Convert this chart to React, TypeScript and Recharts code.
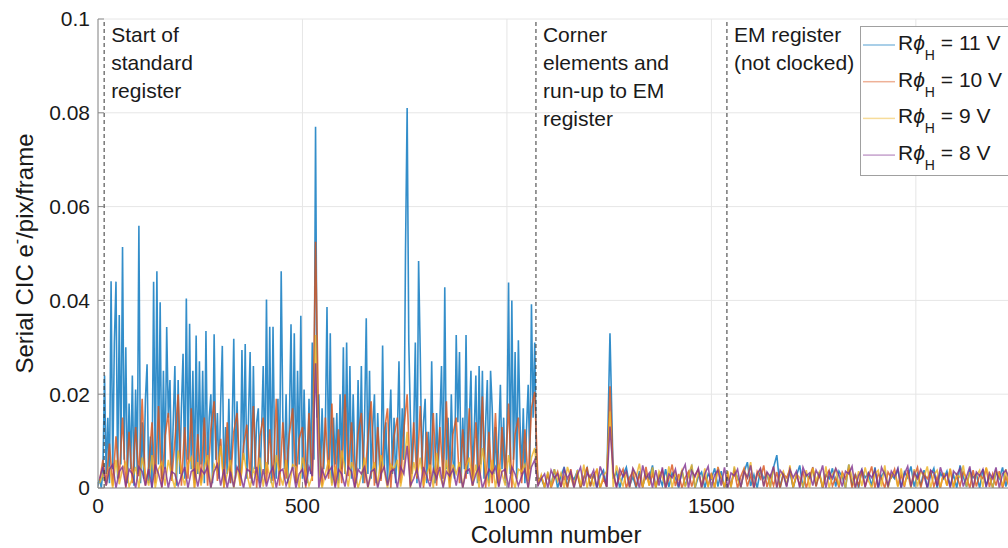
import { CartesianGrid, Legend, Line, LineChart, ReferenceLine, XAxis, YAxis } from 'recharts'

const FONT = '"Liberation Sans", Arial, Helvetica, sans-serif'
const TEXT = '#1a1a1a'
const AXIS = '#8a8a8a'

// CIC values are typed in units of 1e-4 e-/pix/frame
// 11 V, standard register part, one value every 4 columns (0..1076)
const blueValsA = [
    5, 20, 0, 35, 240, 30, 150, 10, 441, 40,
    310, 440, 20, 369, 50, 514, 60, 300, 10, 180,
    40, 240, 5, 210, 30, 559, 10, 140, 20, 190,
    264, 10, 110, 0, 440, 30, 462, 50, 396, 20,
    250, 40, 343, 150, 230, 20, 140, 260, 5, 230,
    30, 170, 286, 20, 404, 60, 350, 40, 250, 10,
    325, 30, 270, 50, 250, 10, 335, 40, 150, 200,
    10, 328, 60, 160, 20, 180, 303, 5, 130, 30,
    190, 10, 120, 318, 20, 185, 50, 10, 294, 60,
    307, 20, 150, 290, 10, 260, 40, 140, 170, 10,
    120, 260, 30, 402, 50, 344, 10, 344, 60, 20,
    190, 30, 462, 150, 40, 200, 10, 140, 349, 40,
    330, 10, 250, 50, 367, 20, 210, 60, 10, 190,
    30, 310, 60, 770, 150, 200, 20, 170, 40, 130,
    386, 30, 330, 10, 150, 50, 160, 10, 200, 40,
    300, 30, 310, 40, 260, 20, 200, 60, 10, 230,
    40, 260, 10, 150, 362, 30, 250, 20, 130, 200,
    10, 160, 50, 20, 304, 40, 140, 10, 120, 210,
    30, 150, 10, 110, 270, 40, 170, 60, 507, 810,
    310, 150, 30, 120, 310, 10, 484, 290, 40, 140,
    190, 10, 120, 30, 270, 50, 10, 160, 40, 140,
    260, 20, 428, 40, 150, 10, 200, 60, 20, 326,
    140, 290, 10, 150, 40, 326, 30, 140, 250, 20,
    120, 240, 10, 260, 50, 250, 20, 140, 230, 10,
    250, 170, 30, 130, 10, 110, 220, 40, 150, 10,
    120, 438, 30, 400, 60, 290, 20, 315, 140, 30,
    170, 10, 130, 220, 40, 392, 150, 310, 60, 20,
]

// 11 V, corner elements and EM register, one value every 8 columns (1084..2236)
const blueValsB = [
    20, 2, 30, 5, 40, 0, 25, 45, 3, 28,
    18, 35, 0, 22, 42, 4, 30, 0, 26, 38,
    2, 330, 20, 34, 0, 28, 44, 5, 24, 0,
    36, 3, 30, 20, 48, 0, 26, 5, 40, 2,
    32, 22, 0, 38, 4, 28, 46, 0, 24, 34,
    0, 30, 20, 42, 3, 36, 0, 26, 5, 40,
    22, 2, 34, 55, 4, 28, 0, 38, 20, 30,
    3, 44, 70, 0, 32, 5, 36, 0, 26, 48,
    0, 30, 22, 40, 4, 34, 0, 28, 20, 42,
    3, 36, 24, 0, 50, 5, 30, 0, 38, 22,
    32, 4, 44, 0, 26, 36, 2, 28, 20, 40,
    0, 34, 22, 46, 3, 30, 5, 38, 0, 26,
    42, 0, 32, 20, 36, 4, 28, 0, 48, 24,
    2, 38, 22, 30, 0, 40, 5, 26, 0, 34,
    20, 44, 3, 30, 24,
]

// 10 V, 9 V and 8 V, one value every 8 columns (4..2236)
const orangeVals = [
    15, 60, 10, 95, 5, 110, 20, 150, 0, 120,
    10, 130, 25, 190, 5, 45, 140, 10, 175, 0,
    110, 160, 15, 100, 200, 5, 130, 20, 170, 0,
    115, 10, 150, 5, 125, 185, 15, 105, 0, 140,
    10, 120, 160, 5, 90, 135, 20, 175, 0, 110,
    150, 10, 125, 15, 190, 5, 140, 20, 115, 170,
    10, 105, 130, 0, 160, 15, 525, 120, 5, 150,
    20, 180, 5, 125, 10, 200, 25, 140, 0, 115,
    160, 10, 105, 185, 5, 130, 15, 120, 170, 0,
    110, 150, 10, 125, 200, 5, 140, 20, 175, 0,
    120, 15, 160, 5, 130, 20, 185, 0, 115, 150,
    10, 125, 20, 170, 5, 140, 15, 195, 0, 120,
    10, 160, 5, 130, 20, 180, 0, 115, 150, 10,
    125, 15, 170, 205, 10, 25, 3, 30, 0, 20,
    35, 2, 25, 0, 40, 5, 30, 0, 22, 45,
    3, 28, 38, 0, 20, 2, 217, 30, 4, 25,
    40, 0, 22, 35, 3, 28, 0, 45, 5, 30,
    2, 25, 38, 0, 20, 50, 4, 30, 0, 22,
    35, 3, 28, 40, 0, 25, 5, 32, 0, 45,
    20, 2, 30, 4, 38, 0, 25, 42, 3, 28,
    0, 35, 20, 48, 2, 26, 5, 34, 0, 30,
    22, 40, 2, 28, 5, 36, 0, 24, 44, 3,
    30, 0, 26, 38, 4, 22, 2, 34, 20, 42,
    0, 28, 5, 36, 3, 24, 46, 0, 30, 20,
    0, 34, 22, 40, 4, 28, 2, 38, 5, 26,
    44, 0, 30, 20, 36, 3, 24, 0, 32, 5,
    40, 2, 26, 4, 34, 22, 0, 38, 3, 28,
    20, 42, 2, 30, 5, 36, 0, 24, 4, 32,
]

const yellowVals = [
    10, 30, 5, 45, 0, 60, 8, 40, 55, 3,
    20, 45, 0, 65, 30, 5, 70, 0, 40, 55,
    5, 60, 25, 0, 80, 35, 5, 50, 65, 0,
    55, 5, 45, 70, 0, 50, 35, 90, 3, 30,
    60, 0, 45, 5, 75, 30, 0, 40, 20, 65,
    3, 55, 25, 0, 70, 30, 5, 60, 0, 50,
    45, 0, 65, 35, 5, 25, 326, 40, 0, 30,
    60, 5, 45, 0, 80, 40, 3, 55, 35, 0,
    25, 65, 0, 30, 55, 5, 70, 35, 0, 50,
    40, 60, 3, 45, 120, 0, 55, 25, 65, 5,
    30, 50, 0, 75, 25, 5, 60, 0, 50, 30,
    55, 0, 45, 65, 5, 50, 0, 85, 40, 3,
    60, 0, 50, 30, 5, 70, 25, 0, 40, 35,
    50, 0, 65, 85, 5, 28, 0, 35, 3, 40,
    15, 32, 0, 45, 22, 2, 38, 5, 50, 0,
    30, 3, 42, 0, 26, 36, 163, 2, 48, 22,
    4, 34, 0, 40, 24, 52, 2, 30, 5, 44,
    0, 36, 22, 3, 46, 0, 32, 18, 38, 2,
    26, 50, 0, 34, 5, 42, 2, 28, 0, 40,
    24, 3, 36, 0, 46, 18, 2, 38, 22, 55,
    0, 28, 40, 4, 34, 0, 44, 2, 26, 36,
    5, 48, 0, 30, 22, 3, 38, 0, 42, 16,
    34, 2, 46, 0, 28, 40, 5, 32, 0, 50,
    22, 0, 36, 4, 44, 16, 0, 30, 38, 3,
    48, 0, 28, 34, 2, 42, 5, 30, 0, 40,
    3, 36, 24, 46, 0, 28, 38, 2, 32, 5,
    42, 0, 30, 22, 48, 3, 34, 0, 26, 38,
    2, 44, 24, 0, 36, 28, 4, 40, 0, 32,
]

const purpleVals = [
    20, 45, 5, 40, 50, 0, 35, 45, 3, 40,
    30, 0, 45, 35, 5, 40, 0, 50, 30, 2,
    45, 0, 35, 30, 5, 25, 45, 0, 35, 40,
    3, 40, 30, 45, 0, 35, 50, 5, 40, 0,
    35, 2, 45, 30, 0, 40, 35, 5, 45, 0,
    40, 3, 30, 45, 0, 35, 40, 5, 25, 45,
    0, 30, 40, 5, 45, 25, 266, 0, 40, 20,
    35, 45, 0, 40, 30, 3, 45, 35, 0, 40,
    30, 45, 2, 35, 40, 0, 30, 45, 5, 35,
    40, 0, 45, 30, 90, 5, 20, 40, 0, 45,
    25, 3, 40, 20, 45, 0, 35, 25, 40, 5,
    45, 0, 35, 40, 5, 30, 45, 0, 20, 40,
    30, 45, 2, 35, 40, 0, 45, 30, 5, 25,
    40, 0, 45, 60, 5, 20, 30, 0, 38, 22,
    30, 2, 40, 20, 35, 0, 28, 44, 4, 32,
    22, 38, 0, 46, 26, 3, 131, 34, 0, 40,
    24, 36, 2, 42, 28, 0, 48, 20, 32, 0,
    38, 5, 44, 0, 30, 22, 40, 3, 34, 50,
    0, 36, 24, 42, 2, 30, 46, 0, 28, 38,
    5, 44, 0, 32, 26, 40, 2, 36, 22, 48,
    0, 30, 42, 3, 34, 24, 46, 0, 38, 28,
    2, 40, 22, 36, 0, 44, 26, 32, 5, 38,
    24, 48, 0, 34, 20, 42, 28, 3, 36, 30,
    46, 0, 26, 40, 2, 32, 22, 38, 0, 44,
    28, 5, 36, 24, 42, 0, 30, 46, 3, 34,
    20, 40, 26, 0, 38, 32, 4, 44, 22, 30,
    0, 36, 28, 42, 3, 24, 46, 0, 34, 26,
    40, 2, 32, 20, 44, 0, 30, 38, 22, 5,
]

const blueCols = [
    ...blueValsA.map((_, i) => i * 4),
    ...blueValsB.map((_, i) => 1084 + i * 8),
]
const otherCols = orangeVals.map((_, i) => 4 + i * 8)

const xTicks = [0, 500, 1000, 1500, 2000]
const yTicks = [0, 0.02, 0.04, 0.06, 0.08, 0.1]

const regionCols = [15, 1071, 1538]
const regionLabels = [
    ['Start of', 'standard', 'register'],
    ['Corner', 'elements and', 'run-up to EM', 'register'],
    ['EM register', '(not clocked)'],
]

const toPoints = (cols: number[], vals: number[]) =>
    cols.map((c, i) => ({ col: c, v: vals[i] / 10000 }))

const series = [
    { volts: '11 V', color: '#0072BD', data: toPoints(blueCols, [...blueValsA, ...blueValsB]) },
    { volts: '10 V', color: '#D95319', data: toPoints(otherCols, orangeVals) },
    { volts: '9 V', color: '#EDB120', data: toPoints(otherCols, yellowVals) },
    { volts: '8 V', color: '#7E2F8E', data: toPoints(otherCols, purpleVals) },
]

const XTick = (props: any) => {
    const { x, y, payload } = props
    return (
        <g>
            <line x1={x} y1={y} x2={x} y2={y - 6} stroke={AXIS} />
            <text x={x} y={y + 10} dy="0.71em" textAnchor="middle" fontSize={21} fill={TEXT} fontFamily={FONT}>
                {payload.value}
            </text>
        </g>
    )
}

const TopTick = (props: any) => {
    const { x, y } = props
    return <line x1={x} y1={y} x2={x} y2={y + 6} stroke={AXIS} />
}

const YTick = (props: any) => {
    const { x, y, payload } = props
    return (
        <g>
            <line x1={x} y1={y} x2={x + 6} y2={y} stroke={AXIS} />
            <text x={x - 8} y={y} dy="0.355em" textAnchor="end" fontSize={21} fill={TEXT} fontFamily={FONT}>
                {String(payload.value)}
            </text>
        </g>
    )
}

const RegionLabel = (props: any) => {
    const { viewBox, lines } = props
    if (!viewBox) return null
    return (
        <text x={viewBox.x + 7} y={viewBox.y + 23} fontSize={21} fill={TEXT} fontFamily={FONT}>
            {lines.map((t: string, i: number) => (
                <tspan key={i} x={viewBox.x + 7} dy={i === 0 ? 0 : 28}>
                    {t}
                </tspan>
            ))}
        </text>
    )
}

const XLabel = (props: any) => {
    const vb = props.viewBox
    return (
        <text x={vb.x + vb.width / 2} y={543} textAnchor="middle" fontSize={24} fill={TEXT} fontFamily={FONT}>
            Column number
        </text>
    )
}

const YLabel = (props: any) => {
    const vb = props.viewBox
    const cy = vb.y + vb.height / 2
    return (
        <text
            x={33}
            y={cy}
            transform={`rotate(-90 33 ${cy})`}
            textAnchor="middle"
            fontSize={24}
            fill={TEXT}
            fontFamily={FONT}
        >
            Serial CIC e
            <tspan dy={-11} fontSize={16}>
                -
            </tspan>
            <tspan dy={11}>/pix/frame</tspan>
        </text>
    )
}

const renderLegend = () => (
    <svg width={170} height={152} style={{ display: 'block' }}>
        <rect x={0.5} y={0.5} width={160} height={149} fill="#ffffff" stroke="#a0a0a0" />
        {series.map((s, i) => {
            const base = 24 + i * 36.7
            return (
                <g key={s.volts}>
                    <line x1={3} y1={base - 5} x2={35} y2={base - 5} stroke={s.color} strokeOpacity={0.45} strokeWidth={1.5} />
                    <text x={38} y={base} fontSize={21} fill={TEXT} fontFamily={FONT}>
                        R<tspan fontStyle="italic">ϕ</tspan>
                        <tspan fontSize={14} dy={10}>
                            H
                        </tspan>
                        <tspan dy={-10}>{` = ${s.volts}`}</tspan>
                    </text>
                </g>
            )
        })}
    </svg>
)

export default function App() {
    return (
        <div
            style={{
                position: 'absolute',
                left: 0,
                top: 0,
                width: 1008,
                height: 548,
                overflow: 'hidden',
                background: '#ffffff',
            }}
        >
            <LineChart width={1024} height={548} margin={{ top: 19, right: 10, bottom: 0, left: 0 }}>
                <CartesianGrid stroke="#e6e6e6" />
                <XAxis
                    dataKey="col"
                    type="number"
                    domain={[0, 2240]}
                    ticks={xTicks}
                    allowDataOverflow
                    height={60}
                    tickSize={0}
                    tickMargin={0}
                    tickLine={false}
                    axisLine={{ stroke: AXIS }}
                    tick={<XTick />}
                    label={<XLabel />}
                />
                <XAxis
                    xAxisId="top"
                    orientation="top"
                    type="number"
                    domain={[0, 2240]}
                    ticks={xTicks}
                    allowDataOverflow
                    height={0}
                    tickSize={0}
                    tickMargin={0}
                    tickLine={false}
                    axisLine={{ stroke: AXIS }}
                    tick={<TopTick />}
                />
                <YAxis
                    type="number"
                    domain={[0, 0.1]}
                    ticks={yTicks}
                    allowDataOverflow
                    width={98}
                    tickSize={0}
                    tickMargin={0}
                    tickLine={false}
                    axisLine={{ stroke: AXIS }}
                    tick={<YTick />}
                    label={<YLabel />}
                />
                {series.map((s) => (
                    <Line
                        key={s.volts}
                        data={s.data}
                        dataKey="v"
                        name={s.volts}
                        type="linear"
                        stroke={s.color}
                        strokeOpacity={0.8}
                        strokeWidth={1.6}
                        dot={false}
                        activeDot={false}
                        isAnimationActive={false}
                    />
                ))}
                {regionCols.map((c, i) => (
                    <ReferenceLine
                        key={c}
                        x={c}
                        stroke="#333333"
                        strokeDasharray="4 3"
                        label={<RegionLabel lines={regionLabels[i]} />}
                    />
                ))}
                <Legend
                    layout="vertical"
                    align="center"
                    verticalAlign="middle"
                    wrapperStyle={{ position: 'absolute', left: 860, top: 26, width: 170, height: 152 }}
                    content={renderLegend}
                />
            </LineChart>
        </div>
    )
}
